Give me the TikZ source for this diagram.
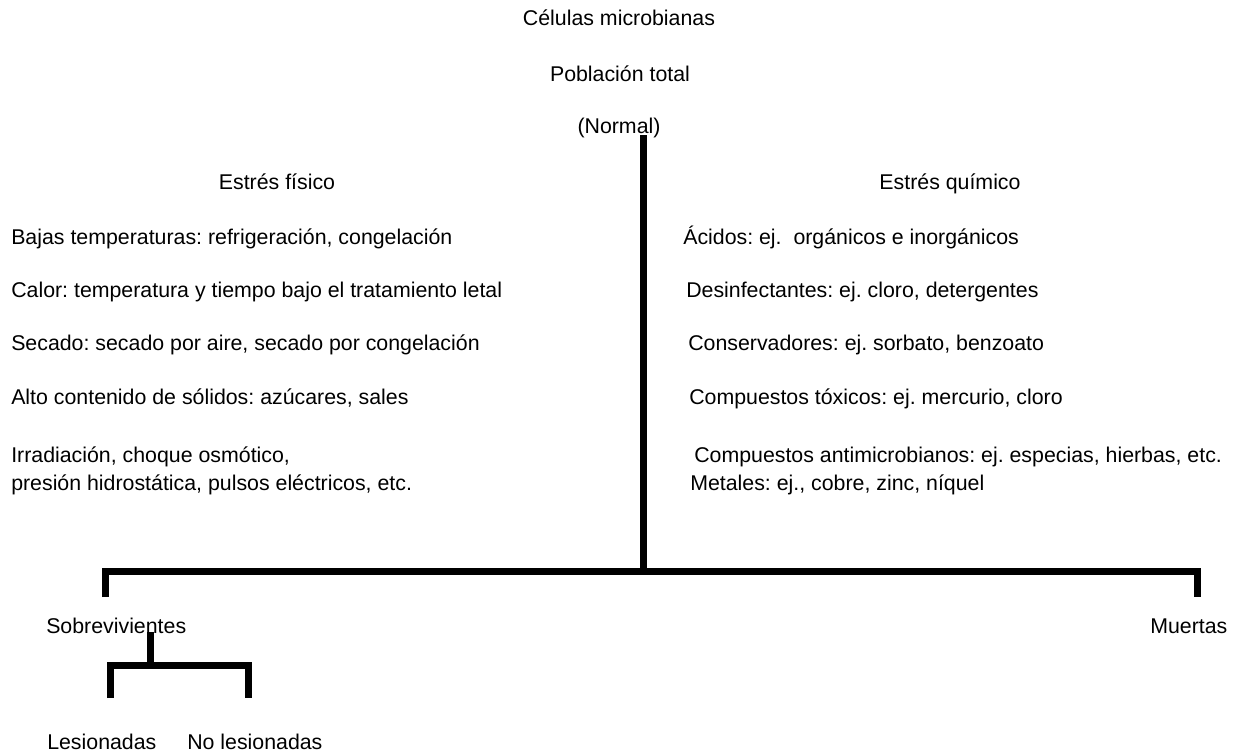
\documentclass[tikz,border=0pt]{standalone}
\usepackage{fontspec}
\setmainfont{Liberation Sans}
\begin{document}
\frenchspacing
\begin{tikzpicture}[x=0.75pt, y=-0.75pt,
    lbl/.style={anchor=base west, inner sep=0pt, font=\fontsize{16}{19}\selectfont},
    ttl/.style={anchor=base, inner sep=0pt, font=\fontsize{16}{19}\selectfont},
    bar/.style={line width=5.25pt, line join=miter}]
    \useasboundingbox (0,0) rectangle (1235,753);

    % Top labels
    \node[ttl] (celulas) at (619,25) {Células microbianas};
    \node[ttl] (poblacion) at (620,81) {Población total};
    \node[ttl] (normal) at (619,133) {(Normal)};

    % Physical stress (left)
    \node[ttl] (fisico) at (277,189) {Estrés físico};
    \node[lbl] (bajas) at (11,244) {Bajas temperaturas: refrigeración, congelación};
    \node[lbl] (calor) at (11,297) {Calor: temperatura y tiempo bajo el tratamiento letal};
    \node[lbl] (secado) at (11,350) {Secado: secado por aire, secado por congelación};
    \node[lbl] (alto) at (11,404) {Alto contenido de sólidos: azúcares, sales};
    \node[lbl] (irrad) at (11,462) {Irradiación, choque osmótico,};
    \node[lbl] (presion) at (11,490) {presión hidrostática, pulsos eléctricos, etc.};

    % Chemical stress (right)
    \node[ttl] (quimico) at (950,189) {Estrés químico};
    \node[lbl] (acidos) at (683,244) {Ácidos: ej.\ \ orgánicos e inorgánicos};
    \node[lbl] (desinf) at (686,297) {Desinfectantes: ej. cloro, detergentes};
    \node[lbl] (conserv) at (688,350) {Conservadores: ej. sorbato, benzoato};
    \node[lbl] (toxicos) at (689,404) {Compuestos tóxicos: ej. mercurio, cloro};
    \node[lbl] (antimic) at (694,462) {Compuestos antimicrobianos: ej. especias, hierbas, etc.};
    \node[lbl] (metales) at (690,490) {Metales: ej., cobre, zinc, níquel};

    % Outcomes
    \node[lbl] (sobrev) at (46,633) {Sobrevivientes};
    \node[lbl] (muertas) at (1150,633) {Muertas};
    \node[lbl] (lesion) at (47,749) {Lesionadas};
    \node[lbl] (nolesion) at (187,749) {No lesionadas};

    % Branch points
    \coordinate (top) at (643.5,135);
    \coordinate (mid) at (643.5,571);
    \coordinate (sobC) at (105.5,571);
    \coordinate (sobT) at (105.5,597);
    \coordinate (muC) at (1197,571);
    \coordinate (muT) at (1197,597);
    \coordinate (subA) at (150,632);
    \coordinate (subB) at (150,665);
    \coordinate (lesC) at (110,665);
    \coordinate (lesT) at (110,698);
    \coordinate (nolC) at (248,665);
    \coordinate (nolT) at (248,698);

    % Tree lines
    \draw[bar] (top) -- (mid);
    \draw[bar] (sobT) -- (sobC) -- (muC) -- (muT);
    \draw[bar] (subA) -- (subB);
    \draw[bar] (lesT) -- (lesC) -- (nolC) -- (nolT);
\end{tikzpicture}
\end{document}
